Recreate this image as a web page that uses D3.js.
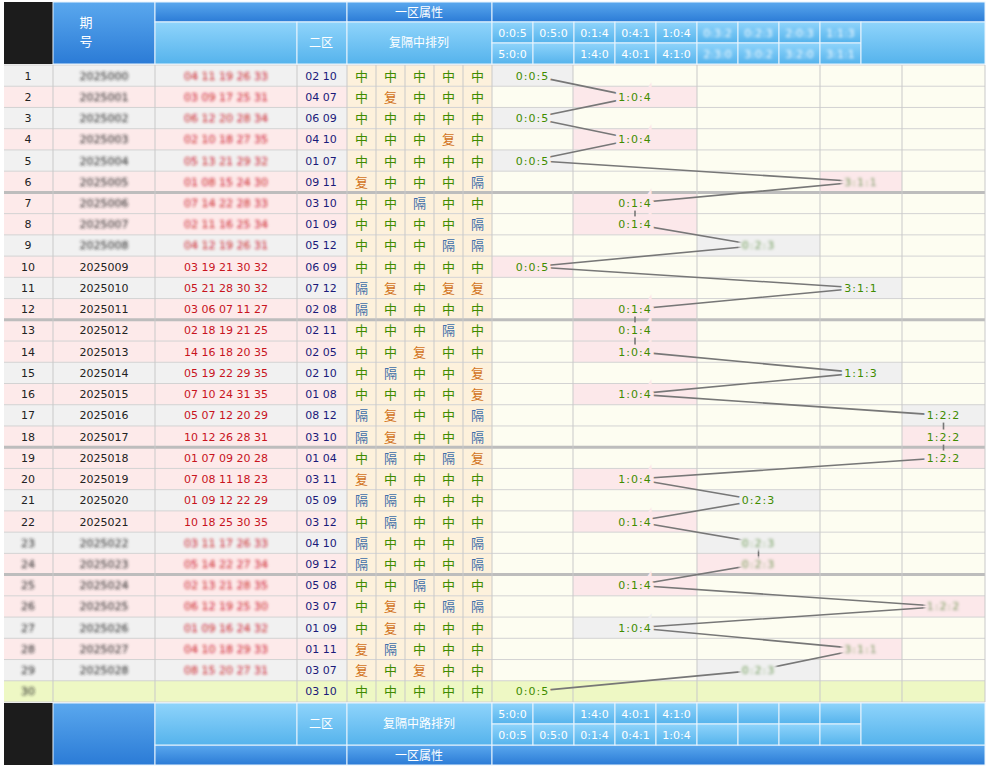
<!DOCTYPE html>
<html>
<head>
<meta charset="utf-8">
<script src="https://cdn.jsdelivr.net/npm/d3@7"></script>
<style>
  body { margin: 0; background: #fff; }
  text { font-family: "DejaVu Sans", "Noto Sans CJK SC", sans-serif; }
</style>
</head>
<body>
<svg id="chart" width="988" height="768"></svg>
<script>
// issue numbers (row 30 is the forecast row, no issue)
var issues = ["2025000","2025001","2025002","2025003","2025004","2025005","2025006","2025007","2025008",
  "2025009","2025010","2025011","2025012","2025013","2025014","2025015","2025016","2025017","2025018",
  "2025019","2025020","2025021","2025022","2025023","2025024","2025025","2025026","2025027","2025028",""];
// front-zone numbers (rows 1-9 and 23-29 are blurred in the picture, estimated)
var front = ["04 11 19 26 33","03 09 17 25 31","06 12 20 28 34","02 10 18 27 35","05 13 21 29 32",
  "01 08 15 24 30","07 14 22 28 33","02 11 16 25 34","04 12 19 26 31",
  "03 19 21 30 32","05 21 28 30 32","03 06 07 11 27","02 18 19 21 25","14 16 18 20 35",
  "05 19 22 29 35","07 10 24 31 35","05 07 12 20 29","10 12 26 28 31","01 07 09 20 28",
  "07 08 11 18 23","01 09 12 22 29","10 18 25 30 35",
  "03 11 17 26 33","05 14 22 27 34","02 13 21 28 35","06 12 19 25 30","01 09 16 24 32",
  "04 10 18 29 33","08 15 20 27 31",""];
var back = ["02 10","04 07","06 09","04 10","01 07","09 11","03 10","01 09","05 12","06 09",
  "07 12","02 08","02 11","02 05","02 10","01 08","08 12","03 10","01 04","03 11",
  "05 09","03 12","04 10","09 12","05 08","03 07","01 09","01 11","03 07","03 10"];
var attrs = ["中中中中中","中复中中中","中中中中中","中中中复中","中中中中中","复中中中隔",
  "中中隔中中","中中中中隔","中中中隔隔","中中中中中","隔复中复复","隔中中中中",
  "中中中隔中","中中复中中","中隔中中复","中中中中复","隔复中中隔","隔复中中隔",
  "中隔中隔复","复中中中中","隔隔中中中","中隔中中中","隔中中中隔","隔中中中隔",
  "中中隔中中","中复中隔隔","中复中中中","复隔中中中","复中复中中","中中中中中"];
// pattern per row and the column group it falls in (0..4)
var patterns = ["0:0:5","1:0:4","0:0:5","1:0:4","0:0:5","3:1:1","0:1:4","0:1:4","0:2:3","0:0:5",
  "3:1:1","0:1:4","0:1:4","1:0:4","1:1:3","1:0:4","1:2:2","1:2:2","1:2:2","1:0:4",
  "0:2:3","0:1:4","0:2:3","0:2:3","0:1:4","1:2:2","1:0:4","3:1:1","0:2:3","0:0:5"];
var groups = [0,1,0,1,0,3,1,1,2,0,3,1,1,1,3,1,4,4,4,1,2,1,2,2,1,4,1,3,2,0];
var blurred = [0,1,2,3,4,5,6,7,8,22,23,24,25,26,27,28,29];
var headTop = ["0:0:5","0:5:0","0:1:4","0:4:1","1:0:4","0:3:2","0:2:3","2:0:3","1:1:3"];
var headBot = ["5:0:0","","1:4:0","4:0:1","4:1:0","2:3:0","3:0:2","3:2:0","3:1:1"];

var svg = d3.select("#chart");
var defs = svg.append("defs");
defs.append("filter").attr("id", "blur").append("feGaussianBlur").attr("stdDeviation", 1.4);
var g1 = defs.append("linearGradient").attr("id", "hdark").attr("x1", 0).attr("y1", 0).attr("x2", 0).attr("y2", 1);
g1.append("stop").attr("offset", 0).attr("stop-color", "#5aa8ee");
g1.append("stop").attr("offset", 1).attr("stop-color", "#2b7bd6");
var g2 = defs.append("linearGradient").attr("id", "hlight").attr("x1", 0).attr("y1", 0).attr("x2", 0).attr("y2", 1);
g2.append("stop").attr("offset", 0).attr("stop-color", "#8fd4fb");
g2.append("stop").attr("offset", 1).attr("stop-color", "#55b3ec");

var top0 = 65, bodyBottom = 702;
var y = d3.scaleBand().domain(d3.range(30)).range([top0, bodyBottom]);
var rh = y.bandwidth();
var bodyCols = [492, 573, 697, 820, 902, 985];
var gx = d3.scaleOrdinal().domain(d3.range(5)).range(d3.range(5).map(function (i) { return (bodyCols[i] + bodyCols[i + 1]) / 2; }));
var attrX = d3.scaleBand().domain(d3.range(5)).range([347, 492]);
var headX = d3.scaleBand().domain(d3.range(9)).range([492, 861]);
var attrColor = { "中": "#3f8c00", "复": "#d2741c", "隔": "#3d6ea8" };
// first row of each later block of six is pink, otherwise grey/pink alternate
function isPink(d) { return (d > 5 && d % 6 === 0) || d % 2 === 1; }
function rowColor(d) { return d === 29 ? "#eef8c4" : (isPink(d) ? "#fdeaea" : "#f1f1f1"); }
function hiColor(d) { return d === 29 ? "#eef8c4" : (isPink(d) ? "#fce8ea" : "#f0f0f0"); }

// row backgrounds
var rows = svg.append("g").selectAll("g").data(d3.range(30)).join("g");
rows.append("rect").attr("x", 4).attr("y", function (d) { return y(d); }).attr("width", 343).attr("height", rh)
  .attr("fill", rowColor);
rows.append("rect").attr("x", 347).attr("y", function (d) { return y(d); }).attr("width", 145).attr("height", rh)
  .attr("fill", function (d) { return d === 29 ? "#eef8c4" : "#fdf1dc"; });
rows.append("rect").attr("x", 492).attr("y", function (d) { return y(d); }).attr("width", 493).attr("height", rh)
  .attr("fill", function (d) { return d === 29 ? "#eef8c4" : "#fdfdf1"; });
rows.filter(function (d) { return d < 29; }).append("rect")
  .attr("x", function (d) { return bodyCols[groups[d]]; }).attr("y", function (d) { return y(d); })
  .attr("width", function (d) { return bodyCols[groups[d] + 1] - bodyCols[groups[d]]; }).attr("height", rh)
  .attr("fill", hiColor);

// grid
var grid = svg.append("g").attr("stroke", "#c9c9c9").attr("stroke-width", 1);
grid.selectAll("line.h").data(d3.range(31)).join("line")
  .attr("x1", 4).attr("x2", 985).attr("y1", function (d) { return y(d) || bodyBottom; }).attr("y2", function (d) { return y(d) || bodyBottom; })
  .attr("stroke-width", function (d) { return d % 6 === 0 && d > 0 && d < 30 ? 3 : 1; })
  .attr("stroke", function (d) { return d % 6 === 0 && d > 0 && d < 30 ? "#bdbdbd" : "#d3d3d3"; });
grid.selectAll("line.v").data([53, 155, 297, 347, 376, 405, 434, 463, 492, 573, 697, 820, 902, 985]).join("line")
  .attr("x1", function (d) { return d; }).attr("x2", function (d) { return d; }).attr("y1", top0).attr("y2", bodyBottom);

// texts
rows.append("text").attr("x", 28).attr("y", function (d) { return y(d) + rh / 2 + 4; }).attr("text-anchor", "middle")
  .attr("font-size", 11).attr("fill", "#222").text(function (d) { return d + 1; })
  .attr("filter", function (d) { return d > 21 ? "url(#blur)" : null; });
rows.append("text").attr("x", 104).attr("y", function (d) { return y(d) + rh / 2 + 4; }).attr("text-anchor", "middle")
  .attr("font-size", 11).attr("fill", "#222").text(function (d) { return issues[d]; })
  .attr("filter", function (d) { return blurred.indexOf(d) >= 0 ? "url(#blur)" : null; });
rows.append("text").attr("x", 226).attr("y", function (d) { return y(d) + rh / 2 + 4; }).attr("text-anchor", "middle")
  .attr("font-size", 11).attr("fill", "#c8141e").attr("xml:space", "preserve").text(function (d) { return front[d]; })
  .attr("filter", function (d) { return blurred.indexOf(d) >= 0 ? "url(#blur)" : null; });
rows.append("text").attr("x", 321).attr("y", function (d) { return y(d) + rh / 2 + 4; }).attr("text-anchor", "middle")
  .attr("font-size", 11).attr("fill", "#1a1a7a").text(function (d) { return back[d]; });
rows.each(function (d) {
  d3.select(this).selectAll("text.a").data(attrs[d].split("")).join("text")
    .attr("x", function (c, i) { return attrX(i) + attrX.bandwidth() / 2; }).attr("y", y(d) + rh / 2 + 5)
    .attr("text-anchor", "middle").attr("font-size", 13).attr("fill", function (c) { return attrColor[c]; }).text(function (c) { return c; });
});

// zigzag line, labels get a halo in the cell colour so same-column links show as short ticks
var line = d3.line().x(function (d) { return gx(groups[d]); }).y(function (d) { return y(d) + rh / 2; });
svg.append("path").datum(d3.range(30)).attr("d", line).attr("fill", "none").attr("stroke", "#777").attr("stroke-width", 1.6);
svg.append("g").selectAll("text").data(d3.range(30)).join("text")
  .attr("x", function (d) { return gx(groups[d]); }).attr("y", function (d) { return y(d) + rh / 2 + 4; })
  .attr("text-anchor", "middle").attr("font-size", 11).attr("fill", "#3f8c00").attr("letter-spacing", 1)
  .attr("stroke", hiColor).attr("stroke-width", 7).attr("paint-order", "stroke")
  .text(function (d) { return patterns[d]; })
  .attr("filter", function (d) { return [5, 8, 22, 23, 25, 27, 28].indexOf(d) >= 0 ? "url(#blur)" : null; });

// header and footer
function band(yTop, h, x0, x1, fill) {
  svg.append("rect").attr("x", x0).attr("y", yTop).attr("width", x1 - x0).attr("height", h)
    .attr("fill", fill).attr("stroke", "#e8f4fd").attr("stroke-width", 1);
}
function label(x, yy, t, size) {
  svg.append("text").attr("x", x).attr("y", yy).attr("text-anchor", "middle").attr("font-size", size || 12)
    .attr("fill", "#fff").text(t);
}
function block(y0, flip) {
  // y0 is top of a 62px block; flip puts the dark strip at the bottom
  var darkY = flip ? y0 + 42 : y0, lightY = flip ? y0 : y0 + 20;
  svg.append("rect").attr("x", 4).attr("y", y0).attr("width", 49).attr("height", 62).attr("fill", "#1c1c1c");
  band(y0, 62, 53, 155, "url(#hdark)");
  band(darkY, 20, 155, 347, "url(#hdark)");
  band(darkY, 20, 347, 492, "url(#hdark)");
  band(darkY, 20, 492, 985, "url(#hdark)");
  label(419, darkY + 15, "一区属性");
  band(lightY, 42, 155, 297, "url(#hlight)");
  band(lightY, 42, 297, 347, "url(#hlight)");
  label(321, lightY + 25, "二区");
  band(lightY, 42, 347, 492, "url(#hlight)");
  label(419, lightY + 25, flip ? "复隔中路排列" : "复隔中排列");
  var r1 = flip ? headBot.slice(0, 5) : headTop, r2 = flip ? headTop.slice(0, 5) : headBot;
  d3.range(9).forEach(function (i) {
    band(lightY, 21, headX(i), headX(i) + headX.bandwidth(), "url(#hlight)");
    band(lightY + 21, 21, headX(i), headX(i) + headX.bandwidth(), "url(#hlight)");
  });
  band(lightY, 42, 861, 985, "url(#hlight)");
  svg.append("g").selectAll("text").data(r1).join("text").attr("x", function (d, i) { return headX(i) + headX.bandwidth() / 2; })
    .attr("y", lightY + 15).attr("text-anchor", "middle").attr("font-size", 11).attr("fill", "#fff").text(function (d) { return d; })
    .attr("filter", function (d, i) { return i > 4 ? "url(#blur)" : null; });
  svg.append("g").selectAll("text").data(r2).join("text").attr("x", function (d, i) { return headX(i) + headX.bandwidth() / 2; })
    .attr("y", lightY + 36).attr("text-anchor", "middle").attr("font-size", 11).attr("fill", "#fff").text(function (d) { return d; })
    .attr("filter", function (d, i) { return i > 4 ? "url(#blur)" : null; });
}
block(2, false);
label(86, 27, "期", 13);
label(86, 46, "号", 13);
block(703, true);
</script>
</body>
</html>
